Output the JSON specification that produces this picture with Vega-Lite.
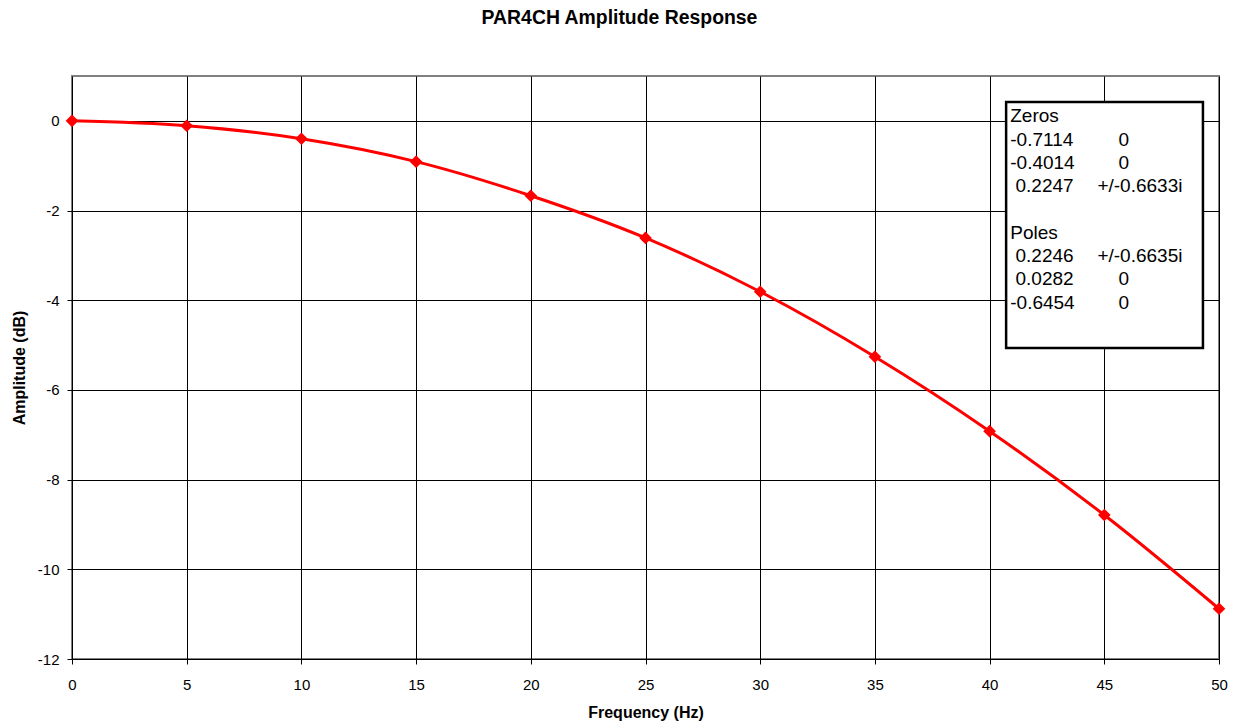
{
  "$schema": "https://vega.github.io/schema/vega-lite/v6.json",
  "autosize": "none",
  "width": 1147,
  "height": 583,
  "padding": {"left": 72, "top": 76, "right": 21, "bottom": 66},
  "background": "white",
  "title": {
    "text": "PAR4CH Amplitude Response",
    "font": "Liberation Sans",
    "fontSize": 19.4,
    "fontWeight": "bold",
    "color": "black",
    "anchor": "middle",
    "dx": -26,
    "offset": 48
  },
  "config": {
    "view": {"stroke": "#808080", "strokeWidth": 2},
    "axis": {
      "labelFont": "Liberation Sans",
      "labelFontSize": 15,
      "labelColor": "black",
      "titleFont": "Liberation Sans",
      "titleFontSize": 16,
      "titleFontWeight": "bold",
      "titleColor": "black",
      "gridColor": "black",
      "gridOpacity": 1,
      "gridWidth": 1,
      "domain": false,
      "tickColor": "black",
      "tickSize": 5
    }
  },
  "datasets": {
    "curve": [
      {"freq": 0, "amp": 0},
      {"freq": 5, "amp": -0.11},
      {"freq": 10, "amp": -0.40},
      {"freq": 15, "amp": -0.91},
      {"freq": 20, "amp": -1.67},
      {"freq": 25, "amp": -2.61},
      {"freq": 30, "amp": -3.81},
      {"freq": 35, "amp": -5.26},
      {"freq": 40, "amp": -6.92},
      {"freq": 45, "amp": -8.79},
      {"freq": 50, "amp": -10.88}
    ],
    "note": [
      {
        "left": "Zeros\n-0.7114\n-0.4014\n\u200b\u00a00.2247\n\u200b\nPoles\n\u200b\u00a00.2246\n\u200b\u00a00.0282\n-0.6454",
        "right": "\u200b\n\u200b\u00a0\u00a0\u00a0\u00a00\n\u200b\u00a0\u00a0\u00a0\u00a00\n+/-0.6633i\n\u200b\n\u200b\n+/-0.6635i\n\u200b\u00a0\u00a0\u00a0\u00a00\n\u200b\u00a0\u00a0\u00a0\u00a00"
      }
    ]
  },
  "layer": [
    {
      "data": {"name": "curve"},
      "mark": {"type": "line", "color": "#ff0000", "strokeWidth": 3, "interpolate": "monotone"},
      "encoding": {
        "x": {
          "field": "freq",
          "type": "quantitative",
          "scale": {"domain": [0, 50], "nice": false, "zero": false},
          "axis": {"values": [0, 5, 10, 15, 20, 25, 30, 35, 40, 45, 50], "title": "Frequency (Hz)", "labelFontSize": 15, "labelFlush": false, "labelPadding": 13, "titlePadding": 12}
        },
        "y": {
          "field": "amp",
          "type": "quantitative",
          "scale": {"domain": [-12, 1], "nice": false, "zero": false},
          "axis": {"values": [-12, -10, -8, -6, -4, -2, 0], "labelExpr": "'' + datum.value", "labelFontSize": 15, "title": "Amplitude (dB)", "labelPadding": 8, "titlePadding": 10}
        }
      }
    },
    {
      "data": {"name": "curve"},
      "mark": {"type": "point", "shape": "diamond", "filled": true, "color": "#ff0000", "size": 160, "opacity": 1},
      "encoding": {
        "x": {"field": "freq", "type": "quantitative"},
        "y": {"field": "amp", "type": "quantitative"}
      }
    },
    {
      "data": {"name": "note"},
      "mark": {"type": "rect", "fill": "white", "stroke": "black", "strokeWidth": 2.5},
      "encoding": {
        "x": {"datum": 40.72},
        "x2": {"datum": 49.3},
        "y": {"datum": 0.42},
        "y2": {"datum": -5.065}
      }
    },
    {
      "data": {"name": "note"},
      "mark": {"type": "text", "align": "left", "baseline": "top", "font": "Liberation Sans", "fontSize": 19, "color": "black", "lineBreak": "\n", "lineHeight": 23.3},
      "encoding": {
        "x": {"datum": 40.9},
        "y": {"datum": 0.3},
        "text": {"field": "left"}
      }
    },
    {
      "data": {"name": "note"},
      "mark": {"type": "text", "align": "left", "baseline": "top", "font": "Liberation Sans", "fontSize": 19, "color": "black", "lineBreak": "\n", "lineHeight": 23.3},
      "encoding": {
        "x": {"datum": 44.7},
        "y": {"datum": 0.3},
        "text": {"field": "right"}
      }
    }
  ]
}
